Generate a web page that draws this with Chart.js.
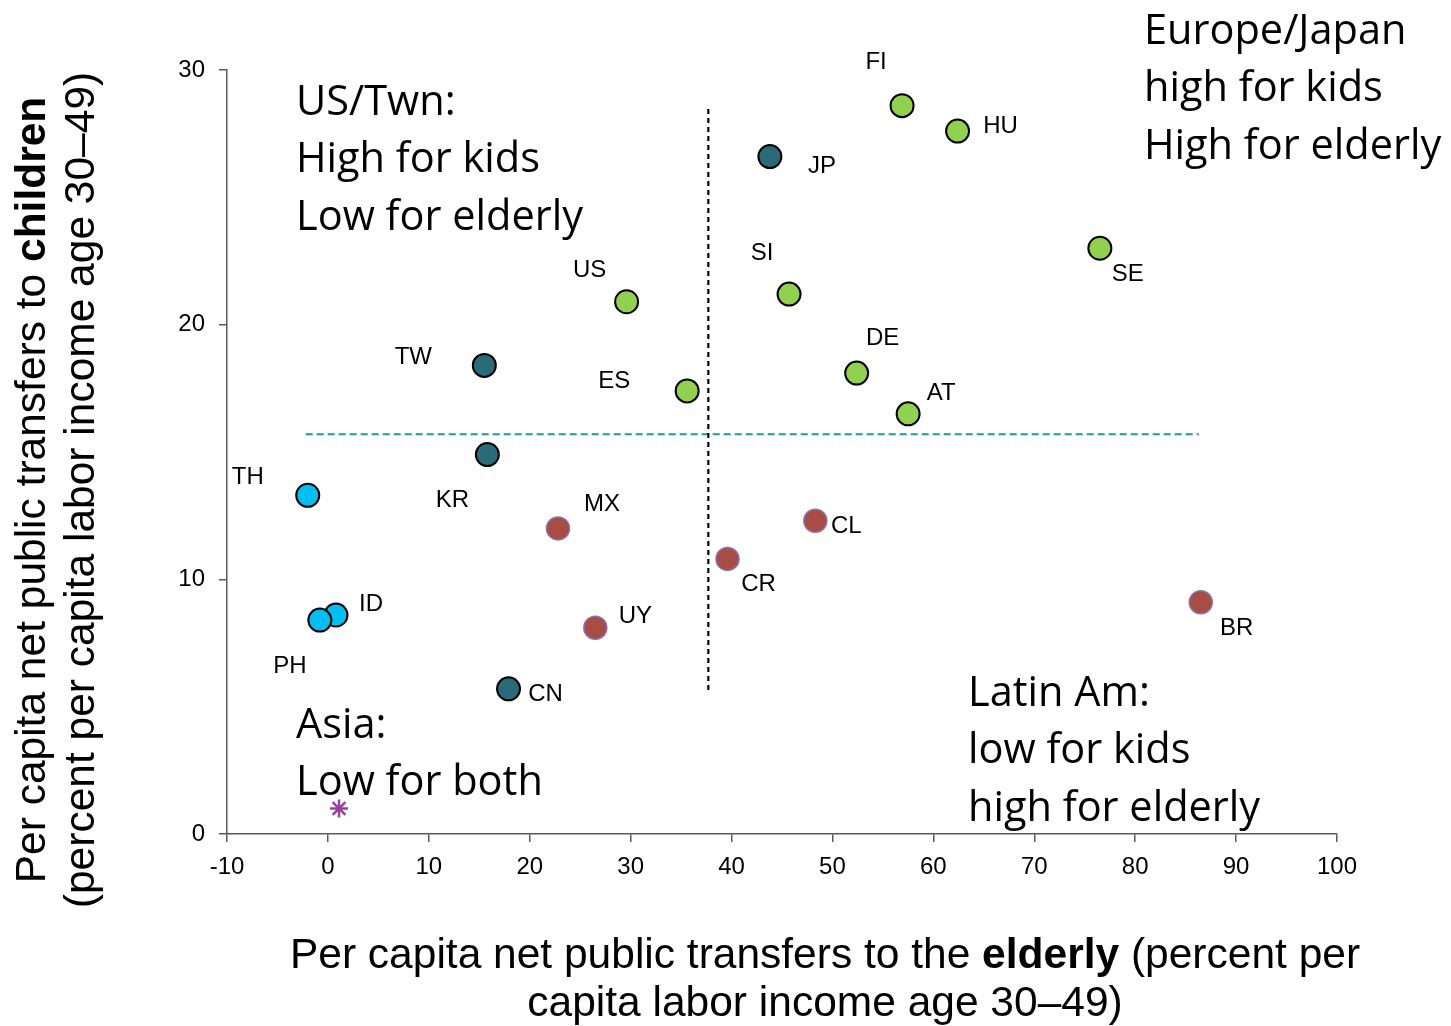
<!DOCTYPE html>
<html><head><meta charset="utf-8">
<script src="https://cdn.jsdelivr.net/npm/chart.js@4.4.1/dist/chart.umd.min.js"></script>
<style>html,body{margin:0;padding:0;background:#fff}#wrap{width:1451px;height:1026px;position:relative}</style>
</head><body><div id="wrap"><canvas id="c" width="1451" height="1026"></canvas></div>
<script>
// ---- data ----
const countries = ['FI','HU','JP','SE','SI','US','DE','AT','ES','TW','KR','TH','MX','CL','CR','BR','UY','ID','PH','CN'];
const elderly   = [56.9, 62.4, 43.8, 76.5, 45.7, 29.6, 52.4, 57.5, 35.6, 15.5, 15.8, -2.0, 22.8, 48.3, 39.6, 86.5, 26.5, 0.8, -0.8, 17.9];
const children  = [28.6, 27.6, 26.6, 23.0, 21.2, 20.9, 18.1, 16.5, 17.4, 18.4, 14.9, 13.3, 12.0, 12.3, 10.8, 9.1, 8.1, 8.6, 8.4, 5.7];
const groups    = ['eu','eu','asiaHigh','eu','eu','eu','eu','eu','eu','asiaHigh','asiaHigh','asiaLow','latam','latam','latam','latam','latam','asiaLow','asiaLow','asiaHigh'];
const extraX = [1.1];
const extraY = [1.0];
const vLineX = [37.7, 37.7];
const vLineY = [5.65, 28.6];
const hLineX = [-2.2, 86.3];
const hLineY = [15.7, 15.7];
const xTicks = [-10,0,10,20,30,40,50,60,70,80,90,100];
const yTicks = [0,10,20,30];

// ---- styles ----
const groupStyle = {
  eu:{bg:'#92D050', border:'#000000'},
  asiaHigh:{bg:'#2A6A79', border:'#000000'},
  asiaLow:{bg:'#00BFF0', border:'#000000'},
  latam:{bg:'#A84D43', border:'#8A72B0'}
};
const labelOffset = {
  FI:[-26,-43], HU:[43,-5], JP:[52,10], SE:[28,26], SI:[-27,-41], US:[-37,-31],
  DE:[26,-35], AT:[33,-20], ES:[-73,-10], TW:[-71,-8], KR:[-35,46], TH:[-60,-18],
  MX:[44,-24], CL:[31,6], CR:[31,25], BR:[36,26], UY:[40,-11], ID:[35,-11], PH:[-30,46], CN:[37,6]
};

const order = ['latam','asiaLow','asiaHigh','eu'];
const datasets = [];
datasets.push({type:'line', data: vLineX.map((x,i)=>({x, y:vLineY[i]})), borderColor:'#000', borderWidth:2.2, borderDash:[5,4], pointRadius:0, fill:false});
datasets.push({type:'line', data: hLineX.map((x,i)=>({x, y:hLineY[i]})), borderColor:'#1E9C8C', borderWidth:2, borderDash:[7,4], pointRadius:0, fill:false});
order.forEach(g=>{
  const pts=[]; const names=[];
  countries.forEach((c,i)=>{ if(groups[i]===g){ pts.push({x:elderly[i], y:children[i]}); names.push(c);} });
  datasets.push({type:'scatter', data:pts, names, pointRadius:11.5, pointHoverRadius:11.5,
    backgroundColor:groupStyle[g].bg, borderColor:groupStyle[g].border, borderWidth:g==='latam'?1.5:2});
});
datasets.push({type:'scatter', data: extraX.map((x,i)=>({x, y:extraY[i]})), pointStyle:'star', pointRadius:9, borderColor:'#9B3FA0', borderWidth:2.5, backgroundColor:'#9B3FA0'});

const labelPlugin = {
  id:'labels',
  afterDatasetsDraw(chart){
    const ctx = chart.ctx;
    ctx.save();
    ctx.font = '24px "Liberation Sans", Arial, sans-serif';
    ctx.fillStyle = '#000';
    ctx.textAlign='center'; ctx.textBaseline='middle';
    chart.data.datasets.forEach((ds,di)=>{
      if(!ds.names) return;
      const meta = chart.getDatasetMeta(di);
      meta.data.forEach((el,i)=>{
        const o = labelOffset[ds.names[i]];
        ctx.fillText(ds.names[i], el.x+o[0], el.y+o[1]);
      });
    });
    // annotations
    ctx.font = '41.5px "Open Sans", Lato, sans-serif';
    ctx.textAlign='left'; ctx.textBaseline='middle';
    const blocks = [
      [296, 103, ['US/Twn:','High for kids','Low for elderly']],
      [1144, 32, ['Europe/Japan','high for kids','High for elderly']],
      [296, 726, ['Asia:','Low for both']],
      [968, 694, ['Latin Am:','low for kids','high for elderly']]
    ];
    blocks.forEach(b=>{ b[2].forEach((t,k)=>ctx.fillText(t, b[0], b[1]+k*57.5)); });
    // axis titles with bold parts
    const drawMixed = (parts, cx, cy, size) => {
      let w=0;
      parts.forEach(p=>{ ctx.font=(p[1]?'bold ':'')+size+'px "Liberation Sans", Arial, sans-serif'; w+=ctx.measureText(p[0]).width; });
      let x = cx - w/2;
      ctx.textAlign='left';
      parts.forEach(p=>{ ctx.font=(p[1]?'bold ':'')+size+'px "Liberation Sans", Arial, sans-serif'; ctx.fillText(p[0], x, cy); x+=ctx.measureText(p[0]).width; });
    };
    drawMixed([['Per capita net public transfers to the ',false],['elderly',true],[' (percent per',false]], 825, 956, 42.5);
    drawMixed([['capita labor income age 30\u201349)',false]], 825, 1004, 42.5);
    ctx.translate(33, 490); ctx.rotate(-Math.PI/2);
    drawMixed([['Per capita net public transfers to ',false],['children',true]], 0, 0, 42.5);
    drawMixed([['(percent per capita labor income age 30\u201349)',false]], 0, 49, 42.5);
    ctx.restore();
  }
};

new Chart(document.getElementById('c'), {
  data:{datasets},
  options:{
    responsive:false, animation:false,
    layout:{padding:{left:0,right:114,top:70,bottom:0}},
    plugins:{legend:{display:false}, tooltip:{enabled:false}},
    scales:{
      x:{type:'linear', min:-10, max:100,
        afterBuildTicks(s){ s.ticks = xTicks.map(v=>({value:v})); },
        afterFit(s){ s.height = 192; },
        border:{color:'#5A5A5A', width:1.5},
        grid:{drawOnChartArea:false, tickLength:8, color:'#5A5A5A', lineWidth:1.5},
        ticks:{font:{family:'"Liberation Sans", Arial', size:24}, color:'#000', padding:11, maxRotation:0}
      },
      y:{type:'linear', min:0, max:30,
        afterBuildTicks(s){ s.ticks = yTicks.map(v=>({value:v})); },
        afterFit(s){ s.width = 227; },
        border:{color:'#5A5A5A', width:1.5},
        grid:{drawOnChartArea:false, tickLength:8, color:'#5A5A5A', lineWidth:1.5},
        ticks:{font:{family:'"Liberation Sans", Arial', size:24}, color:'#000', padding:14}
      }
    }
  },
  plugins:[labelPlugin]
});
</script></body></html>
